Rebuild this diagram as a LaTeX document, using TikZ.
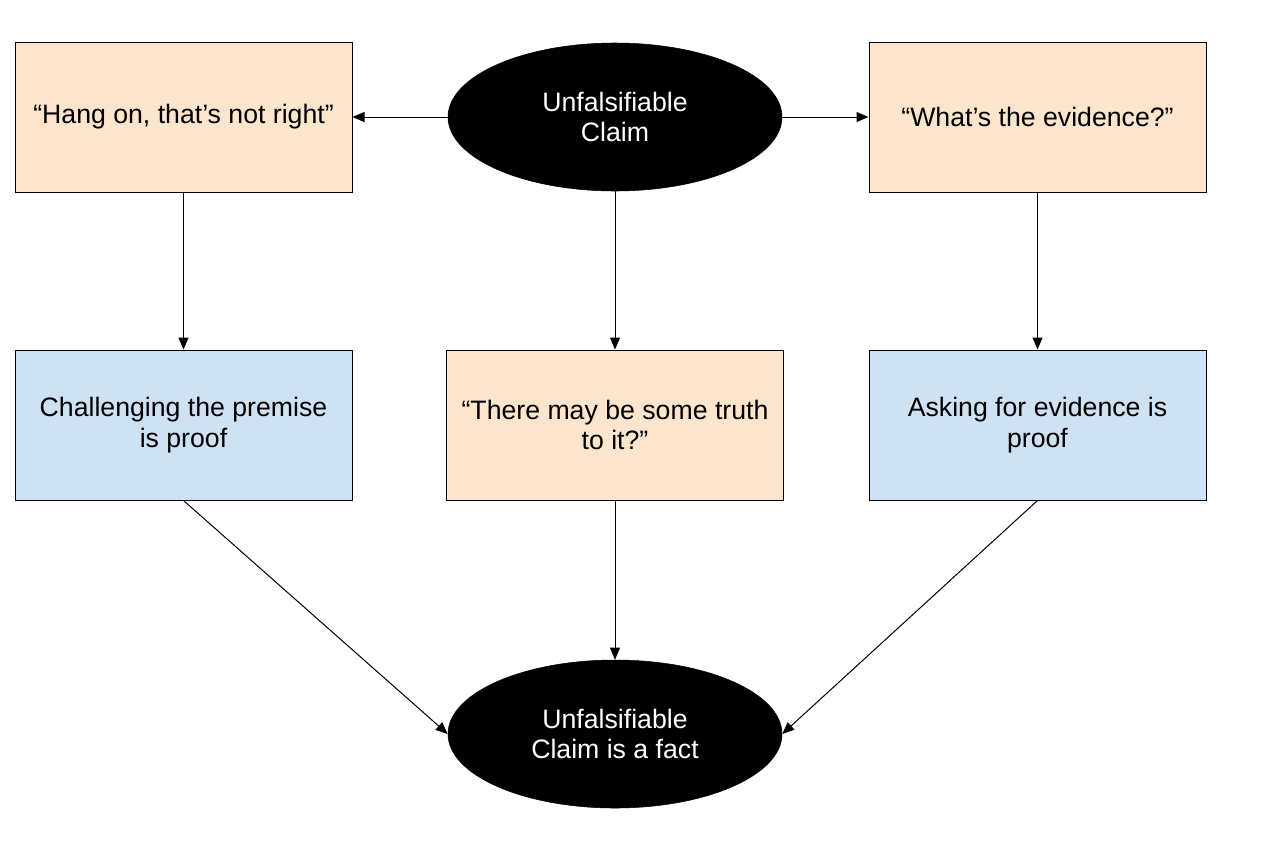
\documentclass[tikz,border=0pt]{standalone}
\usepackage{fontspec}
\setmainfont{Liberation Sans}
\usetikzlibrary{arrows.meta,shapes.geometric}
\definecolor{peach}{HTML}{FCE5CD}
\definecolor{paleblue}{HTML}{CFE2F3}
\tikzset{
  box/.style={draw=black, line width=0.75pt, minimum width=252.75pt, minimum height=112.5pt, align=center, inner sep=0pt, font=\fontsize{20}{23}\selectfont},
  peachbox/.style={box, fill=peach},
  bluebox/.style={box, fill=paleblue},
  oval/.style={ellipse, fill=black, draw=black, minimum width=250.5pt, minimum height=111pt, inner sep=0pt, text=white, align=center, font=\fontsize{20}{23}\selectfont},
  conn/.style={line width=0.75pt, -{Triangle[length=9pt,width=7.5pt]}}
}
\begin{document}
\begin{tikzpicture}[x=0.75pt,y=-0.75pt]
\useasboundingbox (0,0) rectangle (1287,850);
\node[oval] (top) at (615,117) {Unfalsifiable\\Claim};
\node[peachbox] (hang) at (183.5,117) {“Hang on, that’s not right”};
\node[peachbox] (evid) at (1037.5,117) {“What’s the evidence?”};
\node[bluebox] (chal) at (183.5,425) {Challenging the premise\\is proof};
\node[peachbox] (truth) at (615,425) {“There may be some truth\\to it?”};
\node[bluebox] (ask) at (1037.5,425) {Asking for evidence is\\proof};
\node[oval] (fact) at (615,734) {Unfalsifiable\\Claim is a fact};
\draw[conn] (top.west) -- (hang.east);
\draw[conn] (top.east) -- (evid.west);
\draw[conn] (hang.south) -- (chal.north);
\draw[conn] (top.south) -- (truth.north);
\draw[conn] (evid.south) -- (ask.north);
\draw[conn] (chal.south) -- (fact.west);
\draw[conn] (truth.south) -- (fact.north);
\draw[conn] (ask.south) -- (fact.east);
\end{tikzpicture}
\end{document}
